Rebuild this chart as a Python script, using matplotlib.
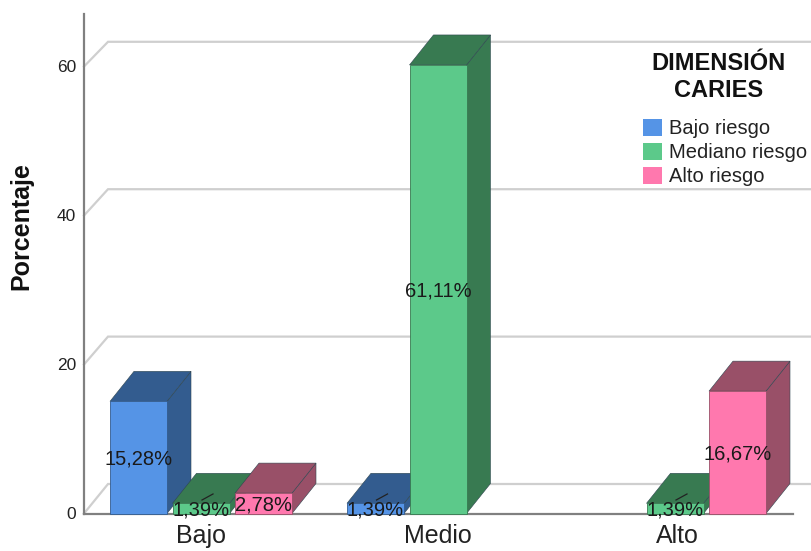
import matplotlib
matplotlib.use('Agg')
import matplotlib.pyplot as plt
from matplotlib.patches import Patch, Polygon

plt.rcParams['font.family'] = ['Liberation Sans', 'DejaVu Sans']

# Datos
niveles = ['Bajo', 'Medio', 'Alto']
riesgos = ['Bajo riesgo', 'Mediano riesgo', 'Alto riesgo']
bajo_riesgo = [15.28, 1.39, None]
mediano_riesgo = [1.39, 61.11, 1.39]
alto_riesgo = [2.78, None, 16.67]
ticks_y = [0, 20, 40, 60]

colores = ['#5594E6', '#5CC98A', '#FF78AE']
laterales = ['#335C8F', '#387A51', '#995068']

# Escala: eje x en pixeles, eje y en porcentaje
W, H = 811, 551
Y0 = 513.5
ESCALA = 7.34
FRENTE = 7.45 / ESCALA    # las marcas del eje quedan un poco mas separadas
FONDO = 7.37 / ESCALA
DX = 24
DY = 30 / ESCALA
PX = 1 / ESCALA

fig = plt.figure(figsize=(W / 100, H / 100), dpi=100)
ax = fig.add_axes([0, 0, 1, 1])
ax.set_xlim(0, W)
ax.set_ylim(-(H - Y0) / ESCALA, Y0 / ESCALA)
ax.axis('off')

# Lineas de la pared del fondo
X_EJE = 84
for t in ticks_y:
    y_front = t * FRENTE
    y_back = t * FONDO + 29.5 * PX
    ax.plot([X_EJE, X_EJE + 24, W], [y_front, y_back, y_back], color='#CFCFCF', lw=1.6,
            solid_joinstyle='miter', zorder=1)
    ax.text(X_EJE - 8, y_front - 1 * PX, str(t), ha='right', va='center', fontsize=12.5, color='#222222')

# Ejes
ax.plot([X_EJE, X_EJE], [0, 68], color='#808080', lw=1.6, zorder=2)
ax.plot([X_EJE, 793], [0, 0], color='#808080', lw=1.6, zorder=2)


def barra(x, valor, color, lateral):
    a = 28.5
    frente = [(x - a, 0), (x + a, 0), (x + a, valor), (x - a, valor)]
    techo = [(x - a, valor), (x + a, valor), (x + a + DX, valor + DY), (x - a + DX, valor + DY)]
    lado = [(x + a, 0), (x + a + DX, DY), (x + a + DX, valor + DY), (x + a, valor)]
    ax.add_patch(Polygon(lado, fc=lateral, ec='#2f4650', lw=0.4, zorder=3))
    ax.add_patch(Polygon(techo, fc=lateral, ec='#2f4650', lw=0.4, zorder=3))
    ax.add_patch(Polygon(frente, fc=color, ec=lateral, lw=0.6, zorder=3))


centros = [201, 438, 675]
paso = 62.5
series = [bajo_riesgo, mediano_riesgo, alto_riesgo]
etiquetas = []
for c, centro in enumerate(centros):
    for s, valores in enumerate(series):
        valor = valores[c]
        if valor is None:
            continue
        x = centro + (s - 1) * paso
        barra(x, valor, colores[s], laterales[s])
        etiquetas.append((x, valor))
    ax.text(centro + (2 if c == 2 else 0), -22.5 * PX, niveles[c], ha='center', va='center',
            fontsize=18, color='#222222')

# Porcentajes al centro de cada barra, con guia en las muy bajas
for x, valor in etiquetas:
    texto = f'{valor:.2f}%'.replace('.', ',')
    ax.text(x, valor / 2 - 1.5 * PX, texto, ha='center', va='center', fontsize=14.5, color='#1a1a1a', zorder=5)
    if valor < 2:
        ax.plot([x + 1, x + 12], [valor + 0.45, valor + 1.27], color='#222222', lw=0.9, zorder=5)

ax.text(21, (Y0 - 226) * PX, 'Porcentaje', rotation=90, ha='center', va='center',
        fontsize=18, fontweight='bold', color='#111111')

# Leyenda
ax.text(718.5, (Y0 - 77) * PX, 'DIMENSIÓN\nCARIES', ha='center', va='center', multialignment='center',
        fontsize=17, fontweight='bold', color='#111111', linespacing=1.2, zorder=6)
handles = [Patch(fc=colores[i], ec='none') for i in range(3)]
ley = ax.legend(handles, riesgos, loc='upper right',
                bbox_to_anchor=(807 / W, 1 - 119 / H), frameon=False, fontsize=14.5,
                labelspacing=0.22, handlelength=0.92, handleheight=0.92,
                handletextpad=0.35, borderpad=0, borderaxespad=0)
ley.set_zorder(6)
for t in ley.get_texts():
    t.set_color('#222222')

plt.savefig('out.png', dpi=100)
